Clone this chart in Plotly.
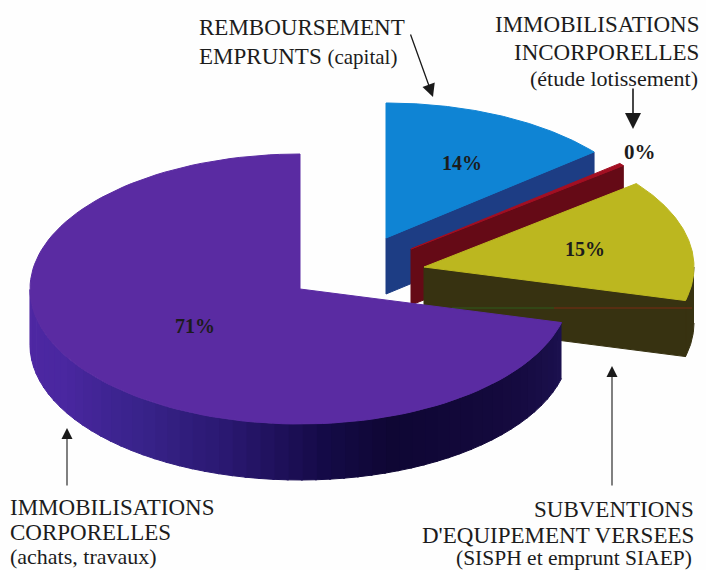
import numpy as np
import plotly.graph_objects as go

# ---- data ----
categories = ["Remboursement emprunts", "Immobilisations incorporelles",
              "Subventions d'équipement versées", "Immobilisations corporelles"]
values = [14, 0.4, 14.6, 71]
value_labels = ["14%", "0%", "15%", "71%"]

# ---- styling / layout ----
W, H = 706, 570
A, B, DEPTH = 270, 135, 56
APEX = [(386, 238), (411, 249), (424, 267), (300, 289)]
TOP = ["#0f84d4", "#a30f22", "#bcb71f", "#5a2ba2"]
WALL = ["#1d3d84", "#650a16", "#373211", "#1c1150"]
PURPLE_STOPS = [(104, "#1c1150"), (130, "#150a3e"), (160, "#0f0734"), (175, "#150b48"),
                (195, "#2a1870"), (215, "#38238a"), (240, "#4a27a0"), (270, "#5028a4")]
SERIF = "Liberation Serif"


def rgb(h):
    return np.array([int(h[i:i + 2], 16) for i in (1, 3, 5)], float)


def shade(t):
    ts = [s[0] for s in PURPLE_STOPS]
    cs = np.array([rgb(s[1]) for s in PURPLE_STOPS])
    c = [np.interp(t, ts, cs[:, i]) for i in range(3)]
    return "rgb(%d,%d,%d)" % tuple(c)


def pt(apex, t):
    r = np.radians(t)
    return apex[0] + A * np.sin(r), apex[1] - B * np.cos(r)


def poly(fig, xs, ys, color):
    fig.add_trace(go.Scatter(x=list(xs), y=list(ys), mode="lines", fill="toself",
                             fillcolor=color, line=dict(color=color, width=1),
                             hoverinfo="skip", showlegend=False))


def top_face(fig, apex, t0, t1, color):
    ts = np.linspace(t0, t1, 120)
    x, y = pt(apex, ts)
    poly(fig, [apex[0], *x, apex[0]], [apex[1], *y, apex[1]], color)


def cut_face(fig, apex, t, color):
    x, y = pt(apex, t)
    poly(fig, [apex[0], x, x, apex[0], apex[0]],
         [apex[1], y, y + DEPTH, apex[1] + DEPTH, apex[1]], color)


def rim(fig, apex, t0, t1, color):
    ts = np.linspace(t0, t1, 40)
    x, y = pt(apex, ts)
    poly(fig, [*x, *x[::-1]], [*y, *(y[::-1] + DEPTH)], color)


fig = go.Figure()
edges = np.cumsum([0] + [v * 3.6 for v in values])

# blue
cut_face(fig, APEX[0], edges[1], WALL[0])
top_face(fig, APEX[0], edges[0], edges[1], TOP[0])
# red
cut_face(fig, APEX[1], edges[2], WALL[1])
top_face(fig, APEX[1], edges[1], edges[2], TOP[1])
# yellow
cut_face(fig, APEX[2], edges[3], WALL[2])
rim(fig, APEX[2], 90, edges[3], WALL[2])
top_face(fig, APEX[2], edges[2], edges[3], TOP[2])
_x0, _y0 = APEX[2]
fig.add_trace(go.Scatter(x=[_x0 + 28, _x0 + 130], y=[_y0 + 41, _y0 + 41], mode="lines",
                         line=dict(color="#2f5a1c", width=1), hoverinfo="skip", showlegend=False))
fig.add_trace(go.Scatter(x=[_x0 + 130, _x0 + 268], y=[_y0 + 41, _y0 + 41], mode="lines",
                         line=dict(color="#7a2a14", width=1), hoverinfo="skip", showlegend=False))
# purple
grid = np.arange(edges[3], 271, 3.0)
for t0, t1 in zip(grid[:-1], grid[1:]):
    rim(fig, APEX[3], t0, t1 + 0.4, shade((t0 + t1) / 2))
top_face(fig, APEX[3], edges[3], edges[4], TOP[3])


def label(x, y, text, anchor, size=23, bold=False):
    fig.add_annotation(x=x, y=y, xref="x", yref="y", text=f"<b>{text}</b>" if bold else text,
                       showarrow=False, xanchor=anchor, yanchor="middle",
                       font=dict(family=SERIF, size=size, color="#1c1c1c"))


def arrow(x0, y0, x1, y1, width=1.3):
    fig.add_annotation(x=x1, y=y1, ax=x0, ay=y0, xref="x", yref="y", axref="x", ayref="y",
                       text="", showarrow=True, arrowhead=2, arrowsize=2, arrowwidth=width,
                       arrowcolor="#1a1a1a")


label(197, 27, "REMBOURSEMENT", "left")
label(197, 56, 'EMPRUNTS <span style="font-size:21px">(capital)</span>', "left")
label(701, 24, "IMMOBILISATIONS", "right")
label(701, 52, "INCORPORELLES", "right")
label(700, 78, "(étude lotissement)", "right", 22)
label(8, 507, "IMMOBILISATIONS", "left")
label(8, 532, "CORPORELLES", "left")
label(8, 556, "(achats, travaux)", "left", 22)
label(696, 509, "SUBVENTIONS", "right")
label(696, 535, "D'EQUIPEMENT VERSEES", "right")
label(694, 558, "(SISPH et emprunt SIAEP)", "right", 21.5)

label(462, 163, value_labels[0], "center", 20, True)
label(640, 152, value_labels[1], "center", 21, True)
label(585, 249, value_labels[2], "center", 20, True)
label(195, 326, value_labels[3], "center", 20, True)

arrow(410, 33, 433, 97)
arrow(633, 87, 633, 129, 1.6)
arrow(67, 487, 67, 428, 1.1)
arrow(612, 487, 612, 366, 1.1)

fig.update_layout(width=W, height=H, margin=dict(l=0, r=0, t=0, b=0),
                  paper_bgcolor="#fefefe", plot_bgcolor="#fefefe", showlegend=False,
                  xaxis=dict(range=[0, W], visible=False, fixedrange=True),
                  yaxis=dict(range=[H, 0], visible=False, fixedrange=True))
fig.write_html("out.html", config={"displayModeBar": False},
               post_script="document.body.style.margin='0';document.body.style.overflow='hidden';")
